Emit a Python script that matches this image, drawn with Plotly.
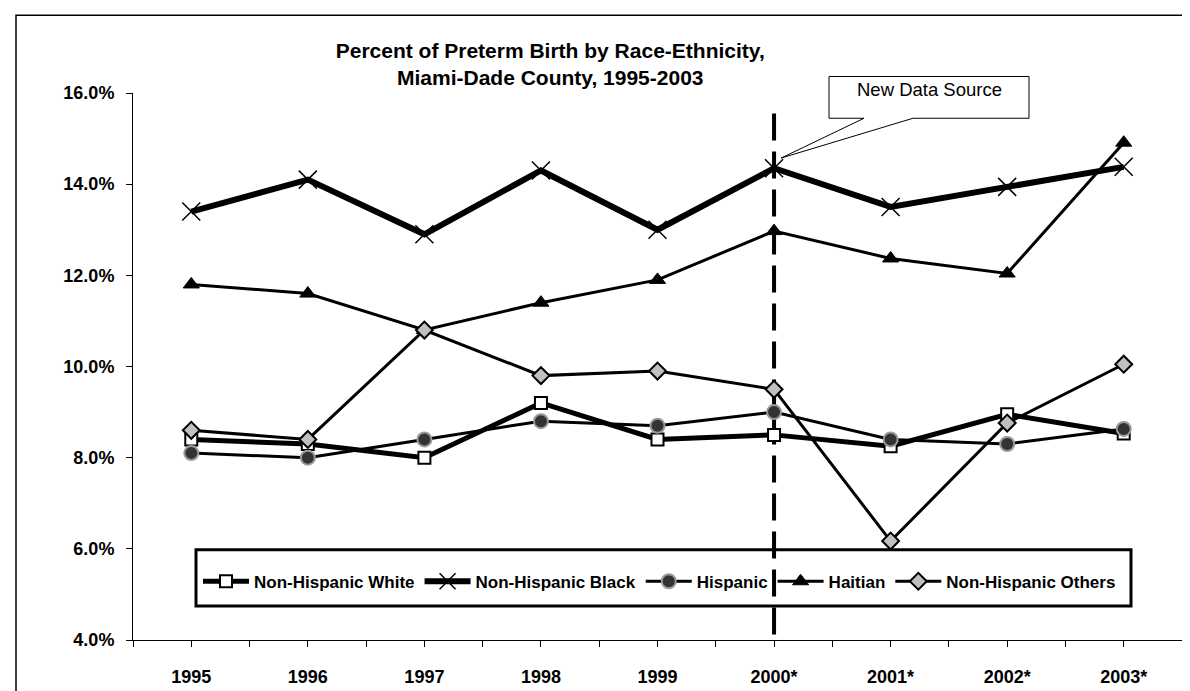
import plotly.graph_objects as go

years = ["1995", "1996", "1997", "1998", "1999", "2000*", "2001*", "2002*", "2003*"]
nh_white = [8.4, 8.3, 8.0, 9.2, 8.4, 8.5, 8.25, 8.95, 8.53]
nh_black = [13.4, 14.1, 12.9, 14.3, 13.0, 14.35, 13.5, 13.94, 14.38]
hispanic = [8.1, 8.0, 8.4, 8.8, 8.7, 9.0, 8.4, 8.3, 8.63]
haitian = [11.8, 11.6, 10.8, 11.4, 11.9, 12.97, 12.37, 12.04, 14.91]
nh_others = [8.6, 8.4, 10.8, 9.8, 9.9, 9.5, 6.17, 8.76, 10.05]

W, H = 1190, 691
L, R, T, B = 125, 1174, 85, 648


def px(p):
    return (p - L) / (R - L)


def py(p):
    return (B - p) / (B - T)


xs = list(range(len(years)))
FONT = "Arial"

fig = go.Figure()
fig.add_trace(go.Scatter(
    x=xs, y=nh_white, name="Non-Hispanic White", mode="lines+markers",
    line=dict(color="black", width=5),
    marker=dict(symbol="square", size=12, color="white", line=dict(color="black", width=2)),
))
fig.add_trace(go.Scatter(
    x=xs, y=nh_black, name="Non-Hispanic Black", mode="lines+markers",
    line=dict(color="black", width=6),
    marker=dict(symbol="x-thin", size=18, color="black", line=dict(color="black", width=1.5)),
))
fig.add_trace(go.Scatter(
    x=xs, y=hispanic, name="Hispanic", mode="lines+markers",
    line=dict(color="black", width=3),
    marker=dict(symbol="circle", size=14, color="#333333", line=dict(color="#999999", width=2)),
))
fig.add_trace(go.Scatter(
    x=xs, y=haitian, name="Haitian", mode="lines+markers",
    line=dict(color="black", width=3),
    marker=dict(symbol="triangle-up", size=14, color="black", line=dict(color="black", width=1)),
))
fig.add_trace(go.Scatter(
    x=xs, y=nh_others, name="Non-Hispanic Others", mode="lines+markers",
    line=dict(color="black", width=3),
    marker=dict(symbol="diamond", size=13, color="#C0C0C0", line=dict(color="black", width=2)),
))

tickvals = [i / 2 - 0.5 for i in range(2 * len(years) + 1)]
ticktext = [years[int(v)] if v == int(v) and v >= 0 else "" for v in tickvals]

shapes = [
    # outer chart frame (cropped on right/bottom)
    dict(type="rect", xref="paper", yref="paper", x0=px(8), x1=px(1210), y0=py(5), y1=py(720),
         line=dict(color="black", width=1.5), fillcolor="rgba(0,0,0,0)", layer="below"),
    # legend box
    dict(type="rect", xref="paper", yref="paper", x0=px(188), x1=px(1123), y0=py(555), y1=py(613),
         line=dict(color="black", width=3), fillcolor="white", layer="below"),
    # vertical dashed line at new data source year
    dict(type="line", xref="x", yref="y", x0=5, x1=5, y0=4.12, y1=15.55,
         line=dict(color="black", width=4, dash="27px,11px"), layer="below"),
    # callout
    dict(type="path", xref="paper", yref="paper",
         path=(f"M {px(821)},{py(68)} L {px(1021)},{py(68)} L {px(1021)},{py(111)} "
               f"L {px(905)},{py(111)} L {px(773)},{py(152)} L {px(856)},{py(111)} "
               f"L {px(821)},{py(111)} Z"),
         line=dict(color="black", width=1), fillcolor="white", layer="above"),
]

annotations = [
    dict(text="New Data Source", xref="paper", yref="paper", x=px(921), y=py(81),
         showarrow=False, font=dict(family=FONT, size=18.5, color="black"),
         xanchor="center", yanchor="middle"),
]

fig.update_layout(
    width=W, height=H,
    margin=dict(l=L, r=W - R, t=T, b=H - B),
    paper_bgcolor="white", plot_bgcolor="white",
    title=dict(text="Percent of Preterm Birth by Race-Ethnicity,<br>Miami-Dade County, 1995-2003",
               x=px(603), xanchor="center", y=1 - 50 / H, yanchor="middle",
               font=dict(family=FONT, size=21, color="black", weight="bold")),
    showlegend=True,
    legend=dict(orientation="h", x=px(190), y=py(588), xanchor="left", yanchor="middle",
                bgcolor="rgba(0,0,0,0)", borderwidth=0, itemwidth=46,
                font=dict(family=FONT, size=17, color="black", weight="bold"),
                traceorder="normal"),
    xaxis=dict(range=[-0.5, 8.5], tickmode="array", tickvals=tickvals, ticktext=ticktext,
               showgrid=False, zeroline=False, showline=True, linecolor="black", linewidth=1,
               ticks="outside", ticklen=6, tickcolor="black", tickwidth=1,
               ticklabelstandoff=14,
               tickfont=dict(family=FONT, size=18, color="black", weight="bold")),
    yaxis=dict(range=[4, 16], dtick=2, tick0=4, tickformat=".1f", ticksuffix="%",
               showgrid=False, zeroline=False, showline=True, linecolor="black", linewidth=1,
               ticks="outside", ticklen=6, tickcolor="black", tickwidth=1,
               ticklabelstandoff=8,
               tickfont=dict(family=FONT, size=18, color="black", weight="bold")),
    shapes=shapes, annotations=annotations,
)

fig.write_html("out.html")
